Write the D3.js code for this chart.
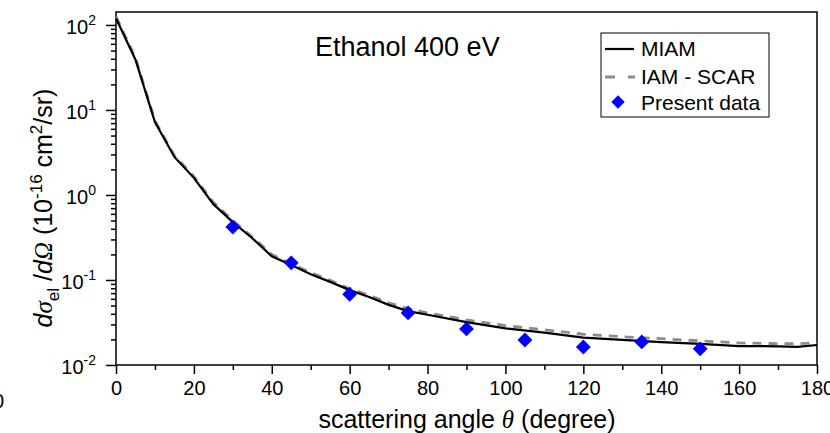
<!DOCTYPE html>
<html>
<head>
<meta charset="utf-8">
<script src="https://cdn.jsdelivr.net/npm/d3@7"></script>
<style>
  body { margin: 0; background: #fff; }
  svg { font-family: "Liberation Sans", Arial, sans-serif; }
</style>
</head>
<body>
<svg id="chart" width="830" height="433"></svg>
<script>
// theory curves (angle in degree, DCS in 1e-16 cm^2/sr)
const angles = [0, 5, 10, 15, 20, 25, 30, 35, 40, 45, 50, 55, 60, 65, 70, 75, 80, 90, 100, 110, 120, 130, 140, 150, 160, 170, 175, 180];
const miam = [120, 39, 7.2, 2.8, 1.59, 0.78, 0.48, 0.31, 0.19, 0.15, 0.117, 0.095, 0.076, 0.063, 0.051, 0.043, 0.039, 0.032, 0.027, 0.024, 0.021, 0.0197, 0.0186, 0.0177, 0.0167, 0.0166, 0.0163, 0.0172];
const iamScar = [125, 41, 7.5, 2.9, 1.65, 0.82, 0.5, 0.32, 0.2, 0.155, 0.122, 0.099, 0.079, 0.066, 0.054, 0.046, 0.041, 0.034, 0.029, 0.026, 0.023, 0.0215, 0.0204, 0.0192, 0.0182, 0.0178, 0.0178, 0.0182];

// measured points
const expAngles = [30, 45, 60, 75, 90, 105, 120, 135, 150];
const expValues = [0.42, 0.159, 0.068, 0.041, 0.0266, 0.0197, 0.0163, 0.0187, 0.0155];
const expErrors = [0.05, 0.018, 0.008, 0.005, 0.0032, 0.0024, 0.002, 0.0022, 0.0019];

const xTicks = [0, 20, 40, 60, 80, 100, 120, 140, 160, 180];
const yTicks = [1e-2, 1e-1, 1, 10, 100];

const margin = { top: 12, right: 13, bottom: 68, left: 116 };
const width = 830 - margin.left - margin.right;
const height = 433 - margin.top - margin.bottom;

const svg = d3.select("#chart");
const chart = svg.append("g")
  .attr("transform", `translate(${margin.left},${margin.top})`);

const x = d3.scaleLinear().domain([0, 180]).range([0, width]);
const y = d3.scaleLog().domain([0.01, 142]).range([height, 0]);

// frame
chart.append("rect")
  .attr("width", width).attr("height", height)
  .attr("fill", "none").attr("stroke", "#000").attr("stroke-width", 1.5);

// x axis: major + minor ticks, outward
const xAxisG = chart.append("g").attr("transform", `translate(0,${height})`);
xAxisG.call(d3.axisBottom(x).tickValues(xTicks).tickSize(9).tickPadding(7).tickFormat(d3.format("d")));
xAxisG.append("g").call(d3.axisBottom(x).tickValues(d3.range(10, 180, 20)).tickSize(5).tickFormat(""));
xAxisG.selectAll(".domain").remove();
xAxisG.selectAll("line").attr("stroke-width", 1.5);
xAxisG.selectAll("text").attr("font-size", 20).attr("fill", "#000")
  .attr("font-family", "Liberation Sans, Arial, sans-serif");

// y axis: log ticks
const minorY = [];
for (let e = -2; e < 2; e++) for (let k = 2; k <= 9; k++) minorY.push(k * Math.pow(10, e));
const yAxisG = chart.append("g");
yAxisG.call(d3.axisLeft(y).tickValues(yTicks).tickSize(10).tickFormat(""));
yAxisG.append("g").call(d3.axisLeft(y).tickValues(minorY).tickSize(5).tickFormat(""));
yAxisG.selectAll(".domain").remove();
yAxisG.selectAll("line").attr("stroke-width", 1.5);

// y tick labels 10^n
yTicks.forEach(v => {
  const t = chart.append("text")
    .attr("x", -20).attr("y", y(v) + 9)
    .attr("text-anchor", "end")
    .attr("font-size", 20);
  t.append("tspan").text("10");
  t.append("tspan").attr("dy", -9).attr("font-size", 14).text(Math.round(Math.log10(v)));
});

// curves
const line = d3.line().x(d => x(d[0])).y(d => y(d[1]));
chart.append("path")
  .datum(angles.map((a, i) => [a, iamScar[i]]))
  .attr("d", line).attr("fill", "none")
  .attr("stroke", "#8c8c8c").attr("stroke-width", 2.8)
  .attr("stroke-dasharray", "9,7");
chart.append("path")
  .datum(angles.map((a, i) => [a, miam[i]]))
  .attr("d", line).attr("fill", "none")
  .attr("stroke", "#000").attr("stroke-width", 2.2);

// data points with error bars
const pts = chart.selectAll(".pt")
  .data(expAngles.map((a, i) => ({ a, v: expValues[i], e: expErrors[i] })))
  .join("g").attr("class", "pt");
pts.append("line")
  .attr("x1", d => x(d.a)).attr("x2", d => x(d.a))
  .attr("y1", d => y(d.v + d.e)).attr("y2", d => y(d.v - d.e))
  .attr("stroke", "#0000ff").attr("stroke-width", 1.5);
pts.append("path")
  .attr("d", d3.symbol(d3.symbolSquare, 110))
  .attr("transform", d => `translate(${x(d.a)},${y(d.v)}) rotate(45)`)
  .attr("fill", "#0000ff");

// title
chart.append("text")
  .attr("x", 315 - margin.left).attr("y", 56 - margin.top)
  .attr("font-size", 27).text("Ethanol 400 eV");

// legend
const lg = svg.append("g").attr("transform", "translate(601,33)");
lg.append("rect").attr("width", 168).attr("height", 84)
  .attr("fill", "#fff").attr("stroke", "#000").attr("stroke-width", 1);
lg.append("line").attr("x1", 4).attr("x2", 33).attr("y1", 16).attr("y2", 16)
  .attr("stroke", "#000").attr("stroke-width", 2.2);
lg.append("line").attr("x1", 4).attr("x2", 34).attr("y1", 44).attr("y2", 44)
  .attr("stroke", "#8c8c8c").attr("stroke-width", 2.8).attr("stroke-dasharray", "10,13");
lg.append("path").attr("d", d3.symbol(d3.symbolSquare, 90))
  .attr("transform", "translate(17,69) rotate(45)").attr("fill", "#0000ff");
[["MIAM", 23], ["IAM - SCAR", 51], ["Present data", 77]].forEach(([s, yy]) => {
  lg.append("text").attr("x", 40).attr("y", yy).attr("font-size", 21).text(s);
});

// x axis title
const xt = svg.append("text")
  .attr("x", 467).attr("y", 428).attr("text-anchor", "middle").attr("font-size", 25);
xt.append("tspan").text("scattering angle ");
xt.append("tspan").attr("font-style", "italic").attr("font-family", "Liberation Serif, serif").text("θ");
xt.append("tspan").text(" (degree)");

// y axis title
const yt = svg.append("text")
  .attr("transform", "translate(52,208) rotate(-90)")
  .attr("text-anchor", "middle").attr("font-size", 25);
yt.append("tspan").attr("font-style", "italic").text("d");
yt.append("tspan").attr("font-style", "italic").attr("font-family", "Liberation Serif, serif").text("σ");
yt.append("tspan").attr("dy", 7).attr("font-size", 17).text("el");
yt.append("tspan").attr("dy", -7).text(" /");
yt.append("tspan").attr("font-style", "italic").text("d");
yt.append("tspan").attr("font-style", "italic").attr("font-family", "Liberation Serif, serif").text("Ω");
yt.append("tspan").text("  (10");
yt.append("tspan").attr("dy", -10).attr("font-size", 17).text("-16");
yt.append("tspan").attr("dy", 10).text(" cm");
yt.append("tspan").attr("dy", -10).attr("font-size", 17).text("2");
yt.append("tspan").attr("dy", 10).text("/sr)");

// clipped label from neighbouring panel
svg.append("text").attr("x", -7).attr("y", 408).attr("font-size", 20).text("0");
</script>
</body>
</html>
